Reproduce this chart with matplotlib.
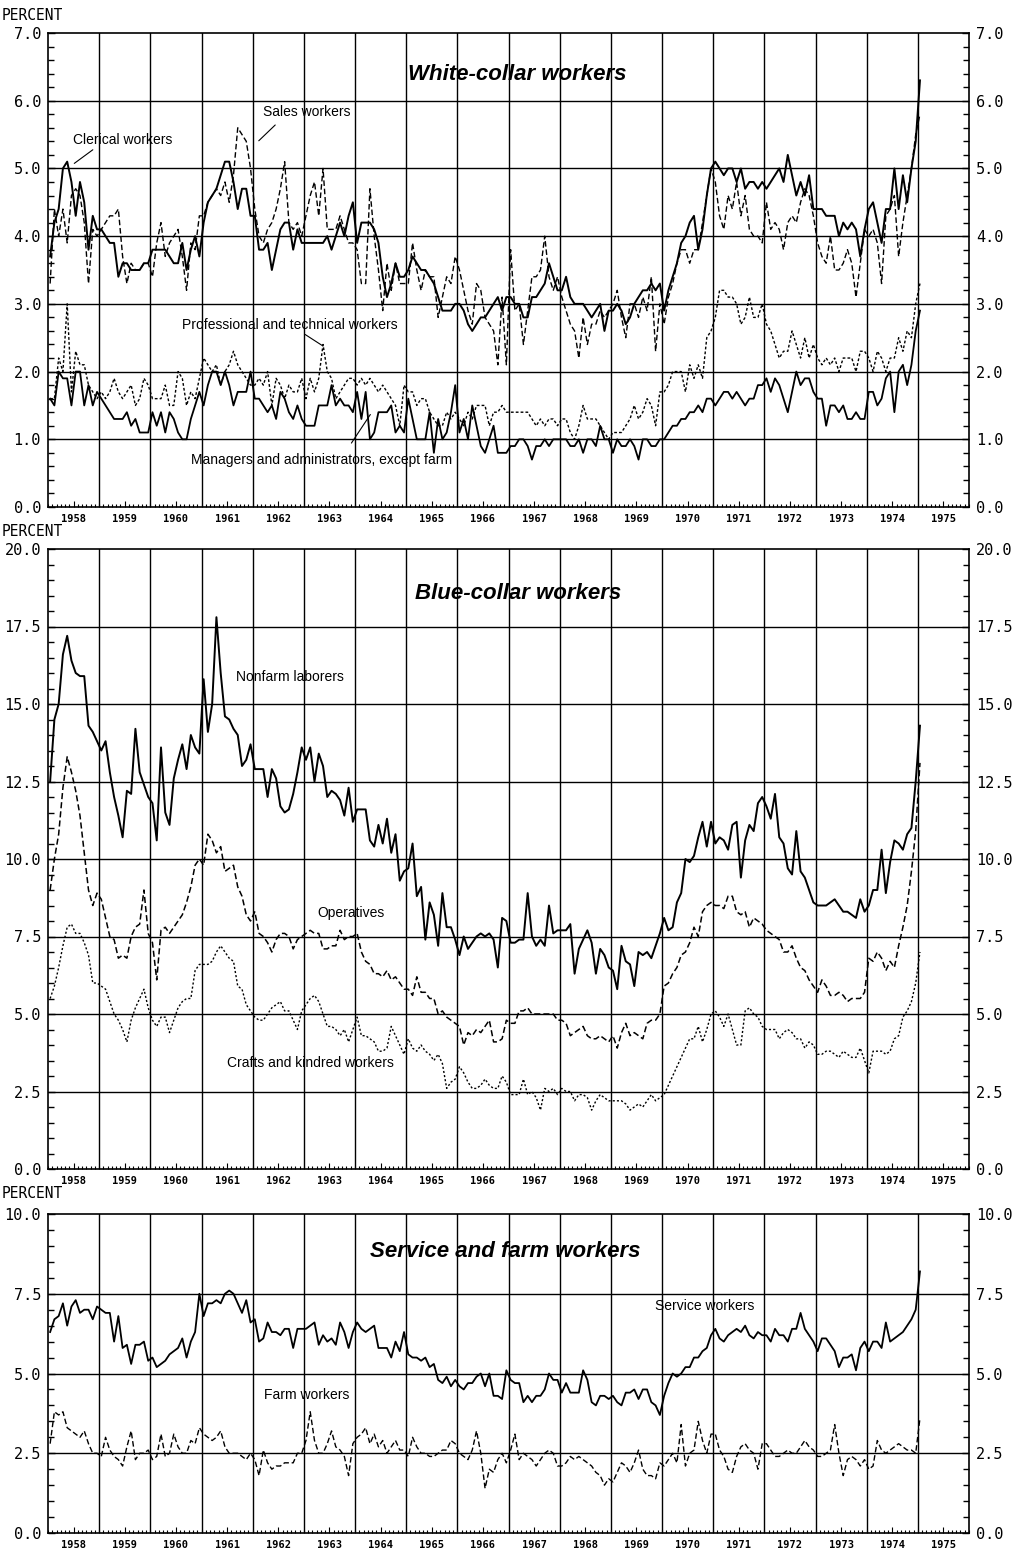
import numpy as np
import matplotlib
matplotlib.use("Agg")
import matplotlib.pyplot as plt
from matplotlib.ticker import MultipleLocator, FixedLocator, FixedFormatter, FormatStrFormatter

# monthly unemployment rates, Jan 1958 .. Jan 1975 (12 values per row)
clerical = [
    3.7, 4.2, 4.4, 5.0, 5.1, 4.8, 4.3, 4.8, 4.5, 3.8, 4.3, 4.1,  # 1958
    4.1, 4.0, 3.9, 3.9, 3.4, 3.6, 3.6, 3.5, 3.5, 3.5, 3.6, 3.6,  # 1959
    3.8, 3.8, 3.8, 3.8, 3.7, 3.6, 3.6, 3.9, 3.5, 3.8, 4.0, 3.7,  # 1960
    4.2, 4.5, 4.6, 4.7, 4.9, 5.1, 5.1, 4.8, 4.4, 4.7, 4.7, 4.3,  # 1961
    4.3, 3.8, 3.8, 3.9, 3.5, 3.8, 4.1, 4.2, 4.2, 3.8, 4.1, 3.9,  # 1962
    3.9, 3.9, 3.9, 3.9, 3.9, 4.0, 3.8, 4.0, 4.2, 4.0, 4.3, 4.5,  # 1963
    3.9, 4.2, 4.2, 4.2, 4.1, 3.9, 3.4, 3.1, 3.3, 3.6, 3.4, 3.4,  # 1964
    3.5, 3.7, 3.6, 3.5, 3.5, 3.4, 3.3, 3.1, 2.9, 2.9, 2.9, 3.0,  # 1965
    3.0, 2.9, 2.7, 2.6, 2.7, 2.8, 2.8, 2.9, 3.0, 3.1, 2.9, 3.1,  # 1966
    3.1, 3.0, 3.0, 2.8, 2.8, 3.1, 3.1, 3.2, 3.3, 3.6, 3.4, 3.2,  # 1967
    3.2, 3.4, 3.1, 3.0, 3.0, 3.0, 2.9, 2.8, 2.9, 3.0, 2.6, 2.9,  # 1968
    2.9, 3.0, 2.9, 2.7, 2.8, 3.0, 3.1, 3.2, 3.2, 3.3, 3.2, 3.3,  # 1969
    2.9, 3.2, 3.4, 3.6, 3.9, 4.0, 4.2, 4.3, 3.8, 4.1, 4.6, 5.0,  # 1970
    5.1, 5.0, 4.9, 5.0, 5.0, 4.8, 5.0, 4.7, 4.8, 4.8, 4.7, 4.8,  # 1971
    4.7, 4.8, 4.9, 5.0, 4.8, 5.2, 4.9, 4.6, 4.8, 4.6, 4.9, 4.4,  # 1972
    4.4, 4.4, 4.3, 4.3, 4.3, 4.0, 4.2, 4.1, 4.2, 4.1, 3.7, 4.1,  # 1973
    4.4, 4.5, 4.2, 3.9, 4.4, 4.4, 5.0, 4.4, 4.9, 4.5, 5.0, 5.4,  # 1974
    6.3,
]
sales = [
    3.3, 4.4, 4.0, 4.4, 3.9, 4.6, 4.7, 4.6, 4.2, 3.3, 4.1, 4.0,
    4.1, 4.2, 4.3, 4.3, 4.4, 3.7, 3.3, 3.6, 3.5, 3.5, 3.6, 3.6,
    3.4, 3.9, 4.2, 3.7, 3.9, 4.0, 4.1, 3.7, 3.2, 3.9, 3.8, 4.3,
    4.3, 4.5, 4.6, 4.7, 4.6, 4.8, 4.5, 4.9, 5.6, 5.5, 5.4, 5.0,
    4.4, 4.0, 3.9, 4.1, 4.2, 4.4, 4.7, 5.1, 4.2, 4.1, 4.2, 4.0,
    4.3, 4.6, 4.8, 4.3, 5.0, 4.1, 4.1, 4.1, 4.3, 4.1, 3.9, 3.9,
    3.8, 3.3, 3.3, 4.7, 4.0, 3.5, 2.9, 3.6, 3.2, 3.6, 3.3, 3.3,
    3.3, 3.9, 3.5, 3.2, 3.5, 3.4, 3.4, 2.8, 3.1, 3.4, 3.3, 3.7,
    3.5, 3.2, 2.9, 2.7, 3.3, 3.2, 2.8, 2.7, 2.6, 2.1, 3.1, 2.1,
    3.8, 2.9, 3.0, 2.4, 2.9, 3.4, 3.4, 3.5, 4.0, 3.4, 3.2, 3.4,
    3.1, 2.9, 2.7, 2.6, 2.2, 2.8, 2.4, 2.7, 2.7, 2.9, 2.8, 2.9,
    3.0, 3.2, 2.8, 2.5, 3.0, 3.0, 2.8, 3.1, 2.9, 3.4, 2.3, 3.0,
    2.7, 3.1, 3.3, 3.6, 3.8, 3.8, 3.6, 3.8, 3.8, 4.2, 4.6, 5.0,
    4.8, 4.3, 4.1, 4.6, 4.4, 4.8, 4.3, 4.6, 4.1, 4.0, 4.0, 3.9,
    4.5, 4.1, 4.2, 4.1, 3.8, 4.2, 4.3, 4.2, 4.5, 4.7, 4.6, 4.3,
    3.9, 3.7, 3.6, 4.0, 3.5, 3.5, 3.6, 3.8, 3.6, 3.1, 3.6, 4.1,
    4.0, 4.1, 3.9, 3.3, 4.3, 4.4, 4.6, 3.7, 4.2, 4.6, 5.0, 5.5,
    5.8,
]
professional = [
    1.6, 1.6, 2.2, 2.0, 3.0, 1.7, 2.3, 2.1, 2.1, 1.8, 1.7, 1.6,
    1.7, 1.6, 1.7, 1.9, 1.7, 1.6, 1.7, 1.8, 1.5, 1.6, 1.9, 1.8,
    1.6, 1.6, 1.6, 1.8, 1.5, 1.5, 2.0, 1.9, 1.5, 1.7, 1.6, 1.9,
    2.2, 2.1, 2.0, 2.1, 1.8, 2.0, 2.1, 2.3, 2.1, 2.0, 1.9, 1.8,
    1.8, 1.9, 1.8, 2.0, 1.5, 1.9, 1.8, 1.6, 1.8, 1.7, 1.7, 1.9,
    1.6, 1.9, 1.7, 1.9, 2.4, 2.0, 1.9, 1.6, 1.7, 1.8, 1.9, 1.9,
    1.8, 1.9, 1.8, 1.9, 1.8, 1.7, 1.8, 1.7, 1.6, 1.5, 1.2, 1.8,
    1.7, 1.7, 1.5, 1.6, 1.6, 1.4, 1.3, 1.2, 1.2, 1.4, 1.3, 1.4,
    1.3, 1.2, 1.4, 1.3, 1.5, 1.5, 1.5, 1.2, 1.4, 1.4, 1.5, 1.4,
    1.4, 1.4, 1.4, 1.4, 1.4, 1.3, 1.2, 1.3, 1.2, 1.3, 1.3, 1.2,
    1.3, 1.3, 1.1, 1.0, 1.2, 1.5, 1.3, 1.3, 1.3, 1.2, 1.1, 1.0,
    1.1, 1.1, 1.1, 1.2, 1.3, 1.5, 1.3, 1.4, 1.6, 1.5, 1.2, 1.7,
    1.7, 1.8, 2.0, 2.0, 2.0, 1.7, 2.1, 1.9, 2.1, 1.9, 2.5, 2.6,
    2.8, 3.2, 3.2, 3.1, 3.1, 3.0, 2.7, 2.8, 3.1, 2.8, 2.8, 3.0,
    2.7, 2.6, 2.4, 2.2, 2.3, 2.3, 2.6, 2.4, 2.2, 2.5, 2.2, 2.4,
    2.2, 2.1, 2.2, 2.1, 2.2, 2.0, 2.2, 2.2, 2.2, 2.0, 2.3, 2.3,
    2.2, 2.0, 2.3, 2.2, 2.0, 2.2, 2.2, 2.5, 2.3, 2.6, 2.5, 3.0,
    3.3,
]
managers = [
    1.6, 1.5, 2.0, 1.9, 1.9, 1.5, 2.0, 2.0, 1.5, 1.8, 1.5, 1.7,
    1.6, 1.5, 1.4, 1.3, 1.3, 1.3, 1.4, 1.2, 1.3, 1.1, 1.1, 1.1,
    1.4, 1.2, 1.4, 1.1, 1.4, 1.3, 1.1, 1.0, 1.0, 1.3, 1.5, 1.7,
    1.5, 1.8, 2.0, 2.0, 1.8, 2.0, 1.8, 1.5, 1.7, 1.7, 1.7, 2.0,
    1.6, 1.6, 1.5, 1.4, 1.5, 1.3, 1.7, 1.6, 1.4, 1.3, 1.5, 1.3,
    1.2, 1.2, 1.2, 1.5, 1.5, 1.5, 1.8, 1.5, 1.6, 1.5, 1.5, 1.4,
    1.7, 1.3, 1.7, 1.0, 1.1, 1.4, 1.4, 1.4, 1.5, 1.1, 1.2, 1.1,
    1.6, 1.3, 1.0, 1.0, 1.0, 1.4, 0.8, 1.3, 1.0, 1.1, 1.4, 1.8,
    1.1, 1.3, 1.0, 1.5, 1.2, 0.9, 0.8, 1.0, 1.2, 0.8, 0.8, 0.8,
    0.9, 0.9, 1.0, 1.0, 0.9, 0.7, 0.9, 0.9, 1.0, 0.9, 1.0, 1.0,
    1.0, 1.0, 0.9, 0.9, 1.0, 0.8, 1.0, 1.0, 0.9, 1.2, 1.0, 1.0,
    0.8, 1.0, 0.9, 0.9, 1.0, 0.9, 0.7, 1.0, 1.0, 0.9, 0.9, 1.0,
    1.0, 1.1, 1.2, 1.2, 1.3, 1.3, 1.4, 1.4, 1.5, 1.4, 1.6, 1.6,
    1.5, 1.6, 1.7, 1.7, 1.6, 1.7, 1.6, 1.5, 1.6, 1.6, 1.8, 1.8,
    1.9, 1.7, 1.9, 1.8, 1.6, 1.4, 1.7, 2.0, 1.8, 1.9, 1.9, 1.7,
    1.6, 1.6, 1.2, 1.5, 1.5, 1.4, 1.5, 1.3, 1.3, 1.4, 1.3, 1.3,
    1.7, 1.7, 1.5, 1.6, 1.9, 2.0, 1.4, 2.0, 2.1, 1.8, 2.1, 2.6,
    2.9,
]
nonfarm = [
    12.5, 14.5, 15.0, 16.6, 17.2, 16.4, 16.0, 15.9, 15.9, 14.3, 14.1, 13.8,
    13.5, 13.8, 12.8, 12.0, 11.4, 10.7, 12.2, 12.1, 14.2, 12.8, 12.4, 12.0,
    11.8, 10.6, 13.6, 11.5, 11.1, 12.6, 13.2, 13.7, 12.9, 14.0, 13.6, 13.4,
    15.8, 14.1, 15.0, 17.8, 16.0, 14.6, 14.5, 14.2, 14.0, 13.0, 13.2, 13.7,
    12.9, 12.9, 12.9, 12.0, 12.9, 12.6, 11.7, 11.5, 11.6, 12.1, 12.8, 13.6,
    13.2, 13.6, 12.5, 13.4, 13.0, 12.0, 12.2, 12.1, 11.9, 11.4, 12.3, 11.2,
    11.6, 11.6, 11.6, 10.6, 10.4, 11.1, 10.5, 11.3, 10.2, 10.8, 9.3, 9.6,
    9.7, 10.5, 8.8, 9.1, 7.4, 8.6, 8.2, 7.2, 8.9, 7.8, 7.8, 7.4,
    6.9, 7.5, 7.1, 7.3, 7.5, 7.6, 7.5, 7.6, 7.4, 6.5, 8.1, 8.0,
    7.3, 7.3, 7.4, 7.4, 8.9, 7.5, 7.2, 7.4, 7.2, 8.5, 7.6, 7.7,
    7.7, 7.7, 7.9, 6.3, 7.1, 7.4, 7.7, 7.3, 6.3, 7.1, 6.9, 6.5,
    6.4, 5.8, 7.2, 6.7, 6.6, 5.9, 7.0, 6.9, 7.0, 6.8, 7.2, 7.6,
    8.1, 7.7, 7.8, 8.6, 8.9, 10.0, 9.9, 10.1, 10.7, 11.2, 10.4, 11.2,
    10.5, 10.7, 10.6, 10.3, 11.1, 11.2, 9.4, 10.6, 11.1, 10.9, 11.8, 12.0,
    11.7, 11.3, 12.1, 10.7, 10.5, 9.7, 9.5, 10.9, 9.6, 9.4, 9.0, 8.6,
    8.5, 8.5, 8.5, 8.6, 8.7, 8.5, 8.3, 8.3, 8.2, 8.1, 8.7, 8.3,
    8.5, 9.0, 9.0, 10.3, 8.9, 9.9, 10.6, 10.5, 10.3, 10.8, 11.0, 12.5,
    14.3,
]
operatives = [
    9.0, 10.0, 10.8, 12.3, 13.3, 12.8, 12.2, 11.4, 10.2, 9.0, 8.5, 8.9,
    8.7, 8.1, 7.5, 7.4, 6.8, 6.9, 6.8, 7.5, 7.8, 7.9, 9.0, 7.6,
    7.3, 6.1, 7.7, 7.8, 7.6, 7.8, 8.0, 8.2, 8.6, 9.1, 9.8, 10.0,
    9.8, 10.8, 10.6, 10.2, 10.4, 9.6, 9.7, 9.8, 9.1, 8.8, 8.2, 8.0,
    8.3, 7.6, 7.5, 7.3, 7.0, 7.4, 7.6, 7.6, 7.5, 7.1, 7.4, 7.5,
    7.6, 7.7, 7.6, 7.6, 7.1, 7.1, 7.2, 7.2, 7.7, 7.4, 7.5, 7.5,
    7.6, 7.0, 6.7, 6.6, 6.3, 6.3, 6.2, 6.4, 6.1, 6.2, 6.0, 5.8,
    5.8, 5.6, 6.2, 5.7, 5.7, 5.5, 5.5, 5.0, 5.1, 4.9, 4.8, 4.7,
    4.6, 4.0, 4.4, 4.3, 4.5, 4.4, 4.6, 4.8, 4.1, 4.1, 4.2, 4.8,
    4.7, 4.7, 5.1, 5.1, 5.2, 5.0, 5.0, 5.0, 5.0, 5.0, 5.0, 4.8,
    4.8, 4.7, 4.3, 4.4, 4.5, 4.6, 4.3, 4.2, 4.2, 4.3, 4.2, 4.1,
    4.3, 3.9, 4.4, 4.7, 4.3, 4.4, 4.3, 4.2, 4.7, 4.8, 4.8, 5.0,
    5.9, 6.0, 6.3, 6.5, 6.9, 7.0, 7.3, 7.8, 7.5, 8.3, 8.5, 8.6,
    8.5, 8.5, 8.4, 8.8, 8.8, 8.3, 8.2, 8.3, 7.8, 8.1, 8.0, 7.9,
    7.7, 7.6, 7.5, 7.4, 7.0, 7.0, 7.2, 6.8, 6.5, 6.4, 6.1, 5.9,
    5.7, 6.1, 5.9, 5.6, 5.6, 5.7, 5.6, 5.4, 5.5, 5.5, 5.5, 5.7,
    6.8, 6.7, 7.0, 6.8, 6.4, 6.7, 6.5, 7.2, 7.8, 8.5, 9.6, 10.9,
    13.1,
]
crafts = [
    5.5, 5.9, 6.5, 7.2, 7.8, 7.9, 7.6, 7.6, 7.3, 6.9, 6.0, 6.0,
    5.9, 5.8, 5.4, 5.0, 4.8, 4.5, 4.1, 4.8, 5.2, 5.5, 5.8, 5.2,
    4.8, 4.6, 4.9, 4.9, 4.4, 4.8, 5.2, 5.4, 5.5, 5.5, 6.4, 6.6,
    6.6, 6.6, 6.7, 7.0, 7.2, 7.0, 6.8, 6.7, 5.9, 5.8, 5.3, 5.1,
    4.9, 4.8, 4.8, 5.0, 5.2, 5.3, 5.4, 5.1, 5.1, 4.8, 4.5, 5.1,
    5.3, 5.5, 5.6, 5.4, 5.0, 4.6, 4.6, 4.5, 4.3, 4.5, 4.1, 4.5,
    4.9, 4.3, 4.3, 4.2, 4.1, 3.8, 3.8, 3.9, 4.6, 4.3, 4.0, 3.7,
    4.2, 3.9, 3.8, 4.0, 3.8, 3.7, 3.5, 3.7, 3.4, 2.6, 2.8, 2.9,
    3.3, 3.1, 2.8, 2.6, 2.6, 2.7, 2.9, 2.7, 2.6, 2.6, 3.0, 2.8,
    2.4, 2.4, 2.4, 2.9, 2.4, 2.5, 2.3, 1.9, 2.6, 2.5, 2.6, 2.4,
    2.6, 2.5, 2.5, 2.2, 2.4, 2.4, 2.3, 1.9, 2.2, 2.4, 2.3, 2.2,
    2.2, 2.2, 2.2, 2.1, 1.9, 2.0, 2.1, 2.0, 2.2, 2.4, 2.2, 2.3,
    2.4, 2.7, 3.0, 3.3, 3.6, 3.9, 4.2, 4.2, 4.6, 4.1, 4.5, 5.0,
    5.1, 4.9, 4.6, 5.0, 4.5, 4.0, 4.0, 5.1, 5.2, 5.0, 4.9, 4.6,
    4.5, 4.5, 4.5, 4.2, 4.4, 4.5, 4.4, 4.2, 4.2, 3.9, 4.1, 4.0,
    3.7, 3.7, 3.8, 3.8, 3.7, 3.6, 3.8, 3.7, 3.6, 3.6, 3.9, 3.5,
    3.1, 3.8, 3.8, 3.8, 3.7, 3.8, 4.2, 4.3, 4.9, 5.1, 5.4, 6.0,
    7.0,
]
service = [
    6.3, 6.7, 6.8, 7.2, 6.5, 7.1, 7.3, 6.9, 7.0, 7.0, 6.7, 7.1,
    7.0, 6.9, 6.9, 6.0, 6.8, 5.8, 5.9, 5.3, 5.9, 5.9, 6.0, 5.4,
    5.5, 5.2, 5.3, 5.4, 5.6, 5.7, 5.8, 6.1, 5.5, 6.0, 6.3, 7.5,
    6.8, 7.2, 7.2, 7.3, 7.2, 7.5, 7.6, 7.5, 7.2, 6.9, 7.3, 6.6,
    6.7, 6.0, 6.1, 6.6, 6.3, 6.3, 6.2, 6.4, 6.4, 5.8, 6.4, 6.4,
    6.4, 6.5, 6.6, 5.9, 6.2, 6.0, 6.1, 5.9, 6.6, 6.3, 5.8, 6.3,
    6.6, 6.4, 6.3, 6.4, 6.5, 5.8, 5.8, 5.8, 5.5, 6.0, 5.7, 6.3,
    5.6, 5.5, 5.5, 5.4, 5.5, 5.2, 5.3, 4.8, 4.7, 4.9, 4.6, 4.8,
    4.6, 4.5, 4.7, 4.7, 4.9, 5.0, 4.6, 5.0, 4.3, 4.3, 4.2, 5.1,
    4.8, 4.7, 4.7, 4.1, 4.3, 4.1, 4.3, 4.3, 4.5, 5.0, 4.8, 4.8,
    4.4, 4.7, 4.4, 4.4, 4.4, 5.1, 4.8, 4.1, 4.0, 4.3, 4.3, 4.2,
    4.3, 4.1, 4.0, 4.4, 4.4, 4.5, 4.2, 4.5, 4.5, 4.1, 4.0, 3.7,
    4.3, 4.7, 5.0, 4.9, 5.0, 5.2, 5.2, 5.5, 5.5, 5.7, 5.8, 6.2,
    6.4, 6.1, 6.0, 6.2, 6.3, 6.4, 6.3, 6.5, 6.2, 6.1, 6.3, 6.2,
    6.2, 6.0, 6.4, 6.2, 6.2, 6.0, 6.4, 6.4, 6.9, 6.4, 6.2, 6.0,
    5.7, 6.1, 6.1, 5.9, 5.7, 5.2, 5.5, 5.5, 5.6, 5.1, 5.8, 6.0,
    5.7, 6.0, 6.0, 5.8, 6.6, 6.0, 6.1, 6.2, 6.3, 6.5, 6.7, 7.0,
    8.2,
]
farm = [
    2.8, 3.8, 3.7, 3.8, 3.3, 3.2, 3.1, 3.0, 3.2, 2.8, 2.5, 2.5,
    2.4, 3.0, 2.6, 2.4, 2.3, 2.1, 2.7, 3.2, 2.3, 2.5, 2.5, 2.6,
    2.3, 2.4, 3.1, 2.4, 2.5, 3.1, 2.7, 2.5, 2.5, 2.9, 2.8, 3.3,
    3.1, 3.0, 2.9, 3.0, 3.2, 2.7, 2.5, 2.5, 2.5, 2.4, 2.3, 2.5,
    2.3, 1.8, 2.6, 2.2, 2.0, 2.1, 2.1, 2.2, 2.2, 2.2, 2.5, 2.5,
    2.9, 3.8, 2.9, 2.5, 2.5, 2.8, 3.2, 2.7, 2.6, 2.4, 1.8, 2.8,
    3.0, 3.1, 3.3, 2.8, 3.1, 2.7, 2.9, 2.5, 2.7, 2.9, 2.6, 2.6,
    2.4, 3.0, 2.7, 2.5, 2.5, 2.4, 2.4, 2.5, 2.6, 2.6, 2.9, 2.8,
    2.5, 2.4, 2.3, 2.6, 3.2, 2.5, 1.4, 2.0, 1.9, 2.3, 2.5, 2.2,
    2.6, 3.1, 2.3, 2.5, 2.4, 2.3, 2.1, 2.3, 2.5, 2.6, 2.5, 2.1,
    2.1, 2.2, 2.4, 2.3, 2.4, 2.3, 2.2, 2.1, 1.9, 1.8, 1.5, 1.7,
    1.6, 1.9, 2.2, 2.1, 1.9, 2.2, 2.6, 2.0, 1.8, 1.8, 1.7, 2.2,
    2.1, 2.3, 2.5, 2.2, 3.4, 2.1, 2.5, 2.6, 3.5, 2.9, 2.5, 3.1,
    3.1, 2.6, 2.4, 2.0, 1.9, 2.4, 2.7, 2.8, 2.6, 2.5, 2.0, 2.8,
    2.8, 2.6, 2.4, 2.4, 2.5, 2.6, 2.5, 2.5, 2.7, 2.9, 2.7, 2.6,
    2.4, 2.4, 2.5, 2.6, 3.4, 2.5, 1.8, 2.3, 2.4, 2.3, 2.1, 2.3,
    2.0, 2.1, 2.9, 2.6, 2.5, 2.6, 2.7, 2.8, 2.7, 2.6, 2.6, 2.5,
    3.6,
]

years = list(range(1958, 1976))
year_labels = [str(y) for y in years]

MONO = "DejaVu Sans Mono"
SANS = "Liberation Sans"
W, H = 1016, 1555


def month_x(values):
    # mid-month positions in decimal years
    return 1958 + (np.arange(len(values)) + 0.5) / 12.0


def frame(ax, ymax, major, minor):
    ax.set_xlim(1958, 1976)
    ax.set_ylim(0, ymax)
    for yr in years[1:]:
        ax.axvline(yr, color="black", lw=1.0, zorder=1)
    for v in np.arange(major, ymax, major):
        ax.axhline(v, color="black", lw=1.0, zorder=1)
    ax.yaxis.set_major_locator(MultipleLocator(major))
    ax.yaxis.set_minor_locator(MultipleLocator(minor))
    ax.yaxis.set_major_formatter(FormatStrFormatter("%.1f"))
    ax.xaxis.set_major_locator(FixedLocator([y + 0.5 for y in years]))
    ax.xaxis.set_major_formatter(FixedFormatter(year_labels))
    ax.xaxis.set_minor_locator(MultipleLocator(1 / 12.0))
    ax.tick_params(axis="y", which="both", direction="in", left=True, right=True,
                   labelleft=True, labelright=True, width=1.0, pad=5)
    ax.tick_params(axis="y", which="major", length=5, labelsize=11)
    ax.tick_params(axis="y", which="minor", length=4)
    ax.tick_params(axis="x", which="both", direction="in", top=False, width=0.8)
    ax.tick_params(axis="x", which="major", length=4, pad=5, labelsize=7.5)
    ax.tick_params(axis="x", which="minor", length=2.5)
    for lab in ax.get_yticklabels():
        lab.set_fontfamily(MONO)
    for lab in ax.get_xticklabels():
        lab.set_fontfamily(MONO)
        lab.set_fontweight("bold")
    for sp in ax.spines.values():
        sp.set_linewidth(1.2)


def label(ax, x, y, text, size=10, **kw):
    ax.text(x, y, text, ha="center", va="center", fontsize=size,
            family=SANS, color="black", zorder=5, **kw)


def leader(ax, start, end):
    ax.annotate("", xy=end, xytext=start,
                arrowprops=dict(arrowstyle="-", color="black", lw=0.8), zorder=5)


fig = plt.figure(figsize=(W / 100, H / 100), dpi=100)
left = 48 / W
width = (969 - 48) / W


def add_panel(top_px, bottom_px):
    return fig.add_axes([left, 1 - bottom_px / H, width, (bottom_px - top_px) / H])


# White-collar
ax1 = add_panel(33, 507)
frame(ax1, 7.0, 1.0, 0.2)
ax1.plot(month_x(clerical), clerical, color="black", lw=1.4, zorder=3)
ax1.plot(month_x(sales), sales, color="black", lw=1.0, ls=(0, (4, 2)), zorder=3)
ax1.plot(month_x(professional), professional, color="black", lw=1.0, ls=(0, (2, 1.5)), zorder=3)
ax1.plot(month_x(managers), managers, color="black", lw=1.3, zorder=3)
label(ax1, 1967.17, 6.38, "White-collar workers", size=16, fontweight="bold", style="italic")
label(ax1, 1963.06, 5.83, "Sales workers")
leader(ax1, (1962.48, 5.67), (1962.08, 5.38))
label(ax1, 1959.45, 5.42, "Clerical workers")
leader(ax1, (1958.92, 5.30), (1958.47, 5.05))
label(ax1, 1962.73, 2.69, "Professional and technical workers")
leader(ax1, (1962.98, 2.57), (1963.41, 2.36))
label(ax1, 1963.35, 0.69, "Managers and administrators, except farm")
leader(ax1, (1963.90, 0.91), (1964.33, 1.40))

# Blue-collar
ax2 = add_panel(549, 1169)
frame(ax2, 20.0, 2.5, 0.5)
ax2.plot(month_x(nonfarm), nonfarm, color="black", lw=1.4, zorder=3)
ax2.plot(month_x(operatives), operatives, color="black", lw=1.1, ls=(0, (4, 2)), zorder=3)
ax2.plot(month_x(crafts), crafts, color="black", lw=1.0, ls=(0, (1.5, 1.5)), zorder=3)
label(ax2, 1967.19, 18.55, "Blue-collar workers", size=16, fontweight="bold", style="italic")
label(ax2, 1962.73, 15.87, "Nonfarm laborers")
label(ax2, 1963.92, 8.26, "Operatives")
label(ax2, 1963.12, 3.42, "Crafts and kindred workers")

# Service and farm
ax3 = add_panel(1214, 1533)
frame(ax3, 10.0, 2.5, 0.5)
ax3.plot(month_x(service), service, color="black", lw=1.3, zorder=3)
ax3.plot(month_x(farm), farm, color="black", lw=1.0, ls=(0, (4, 2)), zorder=3)
label(ax3, 1966.93, 8.84, "Service and farm workers", size=16, fontweight="bold", style="italic")
label(ax3, 1970.84, 7.12, "Service workers")
label(ax3, 1963.06, 4.33, "Farm workers")

for ypx in (15, 531, 1194):
    fig.text(2 / W, 1 - ypx / H, "PERCENT", ha="left", va="center",
             fontsize=10.5, family=MONO)

fig.savefig("out.png", dpi=100)
